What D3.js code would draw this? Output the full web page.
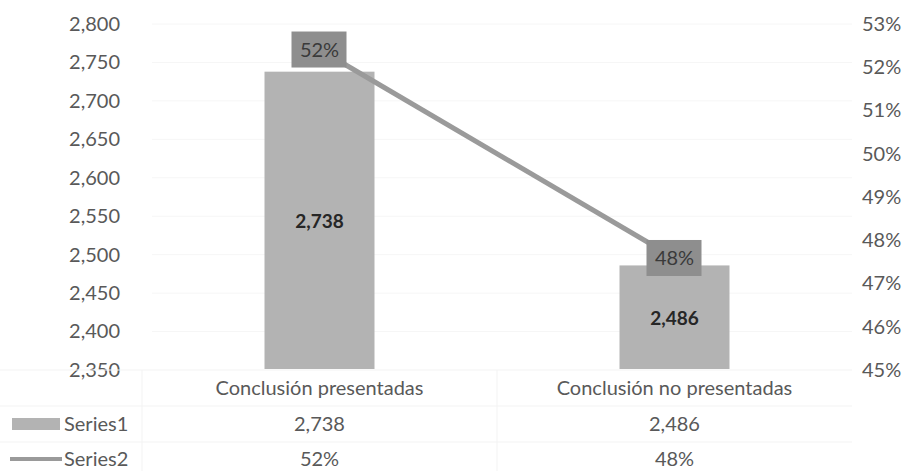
<!DOCTYPE html>
<html><head><meta charset="utf-8">
<script src="https://cdn.jsdelivr.net/npm/d3@7"></script>
<style>body{margin:0;background:#fff}svg{display:block}text{font-family:Lato,"Open Sans",sans-serif}</style>
</head><body>
<svg id="c" width="920" height="471"></svg>
<script>
const categories = ["Conclusión presentadas", "Conclusión no presentadas"];
const series1 = [2738, 2486];
const series2 = [0.5241, 0.4759];
const series2Labels = ["52%", "48%"];
const leftTicks = [2350, 2400, 2450, 2500, 2550, 2600, 2650, 2700, 2750, 2800];
const rightTicks = [0.45, 0.46, 0.47, 0.48, 0.49, 0.50, 0.51, 0.52, 0.53];
const seriesNames = ["Series1", "Series2"];

(function () {
const svg = d3.select("#c");
const pTop = 24, pBottom = 370, pLeft = 142, pRight = 852;
const txt = "#595959";

const x = d3.scaleBand().domain(categories).range([pLeft, pRight]).padding(0);
const y = d3.scaleLinear().domain([2350, 2800]).range([pBottom, pTop]);
const y2 = d3.scaleLinear().domain([0.45, 0.53]).range([pBottom, pTop]);
const cx = (i) => x(categories[i]) + x.bandwidth() / 2;

// faint gridlines
svg.append("g").selectAll("line").data(leftTicks.slice(1)).join("line")
  .attr("x1", pLeft + 10).attr("x2", pRight).attr("y1", d => y(d)).attr("y2", d => y(d))
  .attr("stroke", "#f6f6f6").attr("stroke-width", 1);

// left axis
const ax = svg.append("g").attr("transform", `translate(${pLeft - 22},0)`)
  .call(d3.axisLeft(y).tickValues(leftTicks).tickFormat(d3.format(",")).tickSize(0).tickPadding(0));
ax.select(".domain").remove();
ax.selectAll("text").attr("font-size", 20).attr("fill", txt).attr("font-family", "Lato");

// right axis
const ay = svg.append("g").attr("transform", `translate(${pRight + 10},0)`)
  .call(d3.axisRight(y2).tickValues(rightTicks).tickFormat(d3.format(".0%")).tickSize(0).tickPadding(0));
ay.select(".domain").remove();
ay.selectAll("text").attr("font-size", 20).attr("fill", txt).attr("font-family", "Lato");

// bars
const bw = 110;
svg.append("g").selectAll("rect").data(series1).join("rect")
  .attr("x", (d, i) => cx(i) - bw / 2)
  .attr("width", bw)
  .attr("y", d => y(d))
  .attr("height", d => pBottom - 1 - y(d))
  .attr("fill", "#b3b3b3");

// bar labels
svg.append("g").selectAll("text").data(series1).join("text")
  .attr("x", (d, i) => cx(i))
  .attr("y", d => (y(d) + pBottom) / 2 + 7)
  .attr("text-anchor", "middle").attr("font-size", 19).attr("font-weight", "bold")
  .attr("fill", "#262626").text(d => d3.format(",")(d));

// line
const line = d3.line().x((d, i) => cx(i)).y(d => y2(d));
svg.append("path").datum(series2).attr("d", line)
  .attr("fill", "none").attr("stroke", "#9a9a9a").attr("stroke-width", 5);

// line labels
const lg = svg.append("g").selectAll("g").data(series2).join("g")
  .attr("transform", (d, i) => `translate(${cx(i)},${y2(d)})`);
lg.append("rect").attr("x", -28).attr("y", -18).attr("width", 55).attr("height", 36).attr("fill", "#8e8e8e");
lg.append("text").attr("text-anchor", "middle").attr("y", 7).attr("font-size", 20)
  .attr("fill", "#3a3a3a").text((d, i) => series2Labels[i]);

// data table
const rowY = [388, 424, 459];
const tg = svg.append("g");
[370, 406, 442].forEach(yy => tg.append("line").attr("x1", 0).attr("x2", pRight).attr("y1", yy).attr("y2", yy).attr("stroke", "#f3f3f3"));
[pLeft, x(categories[1])].forEach(xx => tg.append("line").attr("x1", xx).attr("x2", xx).attr("y1", 370).attr("y2", 471).attr("stroke", "#f3f3f3"));

tg.selectAll(".cat").data(categories).join("text").attr("class", "cat")
  .attr("x", (d, i) => cx(i)).attr("y", rowY[0] + 7)
  .attr("text-anchor", "middle").attr("font-size", 20).attr("fill", txt).text(d => d);
tg.selectAll(".s1").data(series1).join("text").attr("class", "s1")
  .attr("x", (d, i) => cx(i)).attr("y", rowY[1] + 7)
  .attr("text-anchor", "middle").attr("font-size", 20).attr("fill", txt).text(d => d3.format(",")(d));
tg.selectAll(".s2").data(series2Labels).join("text").attr("class", "s2")
  .attr("x", (d, i) => cx(i)).attr("y", rowY[2] + 7)
  .attr("text-anchor", "middle").attr("font-size", 20).attr("fill", txt).text(d => d);

// legend keys
tg.append("rect").attr("x", 12).attr("y", rowY[1] - 6).attr("width", 48).attr("height", 12).attr("fill", "#b3b3b3");
tg.append("line").attr("x1", 10).attr("x2", 62).attr("y1", rowY[2]).attr("y2", rowY[2]).attr("stroke", "#9a9a9a").attr("stroke-width", 4);
tg.selectAll(".ln").data(seriesNames).join("text").attr("class", "ln")
  .attr("x", 64).attr("y", (d, i) => rowY[i + 1] + 7).attr("font-size", 20).attr("fill", txt).text(d => d);
})();
</script>
</body></html>
